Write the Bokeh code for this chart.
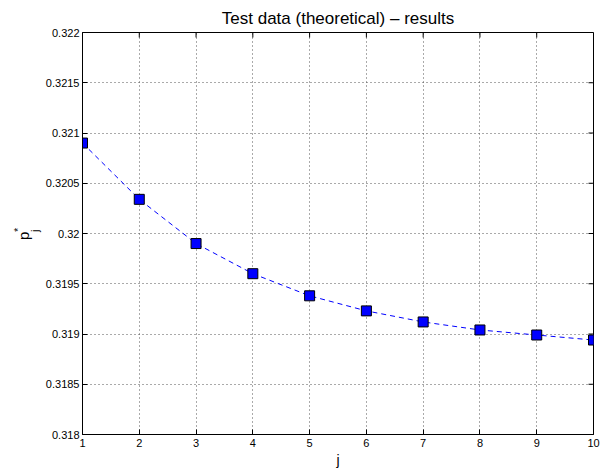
import math
from bokeh.plotting import figure
from bokeh.models import Range1d, FixedTicker, Label
from bokeh.embed import file_html
from bokeh.resources import INLINE

# ---- data ----
j = [1, 2, 3, 4, 5, 6, 7, 8, 9, 10]
p_star = [0.32090, 0.32034, 0.31990, 0.31960, 0.31938,
          0.31923, 0.31912, 0.31904, 0.31899, 0.31894]
x_ticks = [1, 2, 3, 4, 5, 6, 7, 8, 9, 10]
y_ticks = [0.318, 0.3185, 0.319, 0.3195, 0.32, 0.3205, 0.321, 0.3215, 0.322]
y_tick_labels = ["0.318", "0.3185", "0.319", "0.3195", "0.32",
                 "0.3205", "0.321", "0.3215", "0.322"]
title_text = "Test data (theoretical) \u2013 results"
x_label = "j"

FONT = "Liberation Sans"
W, H = 601, 470
FL, FR, FT, FB = 82, 593, 32, 435  # frame edges (px)

x0, x1 = 1, 10
y0, y1 = 0.318, 0.322

p = figure(width=W, height=H, x_range=Range1d(x0, x1), y_range=Range1d(y0, y1),
           output_backend="svg", toolbar_location=None, title=title_text,
           min_border_left=FL, min_border_right=W - FR,
           min_border_top=FT, min_border_bottom=H - FB,
           x_axis_label=x_label)
p.background_fill_color = "white"
p.border_fill_color = "white"
p.outline_line_color = "black"
p.outline_line_width = 1

p.title.align = "center"
p.title.text_font = FONT
p.title.text_font_size = "17px"
p.title.text_font_style = "normal"
p.title.text_color = "black"
p.title.standoff = 10

for ax in (p.xaxis[0], p.yaxis[0]):
    ax.axis_line_color = "black"
    ax.major_tick_line_color = "black"
    ax.major_tick_in = 5
    ax.major_tick_out = 0
    ax.minor_tick_line_color = None
    ax.major_label_text_font = FONT
    ax.major_label_text_color = "black"
    ax.major_label_text_font_size = "11px"

p.xaxis.ticker = FixedTicker(ticks=x_ticks)
p.yaxis.ticker = FixedTicker(ticks=y_ticks)
p.yaxis.major_label_overrides = {t: s for t, s in zip(y_ticks, y_tick_labels)}
p.xaxis.major_label_standoff = 4
p.yaxis.major_label_standoff = 3
p.xaxis.axis_label_text_font = FONT
p.xaxis.axis_label_text_font_size = "14px"
p.xaxis.axis_label_text_font_style = "normal"
p.xaxis.axis_label_text_color = "black"
p.xaxis.axis_label_standoff = 2

# inward ticks on the top and right frame edges (box)
p.ray(x=x_ticks, y=[y1] * len(x_ticks), length=5, length_units="screen",
      angle=-math.pi / 2, line_color="black", line_width=1)
p.ray(x=[x1] * len(y_ticks), y=y_ticks, length=5, length_units="screen",
      angle=math.pi, line_color="black", line_width=1)

# grid
for g, t in ((p.xgrid, x_ticks), (p.ygrid, y_ticks)):
    g.ticker = FixedTicker(ticks=t)
    g.grid_line_color = "#555555"
    g.grid_line_dash = "1 3"
    g.grid_line_width = 1

# data
p.line(j, p_star, line_color="#0000ff", line_width=1, line_dash="5 4")
p.scatter(j, p_star, marker="square", size=10, fill_color="#0000ff",
          line_color="black", line_width=1)

# y label p_j^* built from rotated text pieces, placed in the left border
def dx(px):
    return x0 + (px - FL) * (x1 - x0) / (FR - FL)

def dy(py):
    return y1 - (py - FT) * (y1 - y0) / (FB - FT)

for txt, bx, by, size in (("p", 23, 240, "15px"), ("j", 34, 232, "11px"), ("*", 17, 232, "11px")):
    p.add_layout(Label(x=dx(bx), y=dy(by), text=txt, angle=math.pi / 2,
                       text_font=FONT, text_font_size=size, text_color="black",
                       text_align="left", text_baseline="alphabetic"), "left")

open("out.html", "w").write(file_html(p, INLINE))
